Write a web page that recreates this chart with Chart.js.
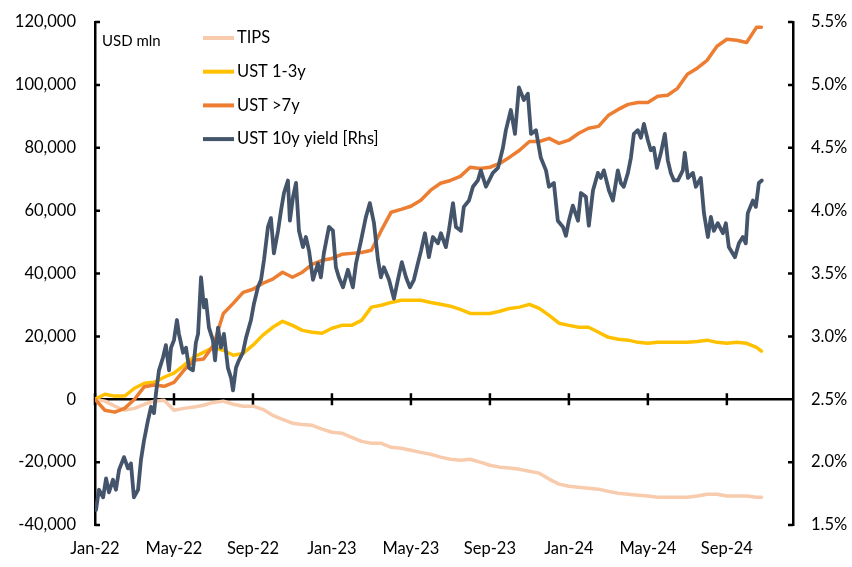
<!DOCTYPE html>
<html>
<head>
<meta charset="utf-8">
<script src="https://cdn.jsdelivr.net/npm/chart.js@4.4.1/dist/chart.umd.min.js"></script>
<style>
  html, body { margin: 0; padding: 0; background: #fff; }
  #wrap { width: 852px; height: 567px; position: relative; }
</style>
</head>
<body>
<div id="wrap"><canvas id="chart-flows"></canvas></div>
<script>
// ── Data (x in months since Jan-22) ──────────
const tickMonths = [0, 4, 8, 12, 16, 20, 24, 28, 32];
const tickLabels = ['Jan-22', 'May-22', 'Sep-22', 'Jan-23', 'May-23', 'Sep-23', 'Jan-24', 'May-24', 'Sep-24'];

// half-month grid for the cumulative flows (USD mln)
const flowMonths = [0, 0.5, 1, 1.5, 2, 2.5, 3, 3.5, 4, 4.5, 5, 5.5, 6, 6.5, 7, 7.5, 8, 8.5, 9, 9.5,
  10, 10.5, 11, 11.5, 12, 12.5, 13, 13.5, 14, 14.5, 15, 15.5, 16, 16.5, 17, 17.5, 18, 18.5, 19, 19.5,
  20, 20.5, 21, 21.5, 22, 22.5, 23, 23.5, 24, 24.5, 25, 25.5, 26, 26.5, 27, 27.5, 28, 28.5, 29, 29.5,
  30, 30.5, 31, 31.5, 32, 32.5, 33, 33.5, 33.75];

const tips = [0, -600, -2200, -3500, -2900, -1600, -600, -300, -3500, -2900, -2500, -1900, -1000, -600, -1600, -2200,
  -2200, -3200, -5100, -6400, -7600, -8000, -8300, -9500, -10500, -10800, -12100, -13400, -14000, -14000,
  -15300, -15600, -16200, -16900, -17500, -18400, -19100, -19400, -19100, -20000, -21000, -21600, -21900,
  -22300, -22900, -23500, -25400, -27000, -27700, -28000, -28300, -28600, -29300, -29900, -30200, -30500,
  -30800, -31200, -31200, -31200, -31200, -30800, -30200, -30200, -30800, -30800, -30800, -31200, -31200];

const ust13 = [0, 1600, 1000, 1000, 3500, 5100, 5400, 7000, 8300, 10800, 13400, 14900, 16500, 15600, 14000, 14600,
  17200, 20400, 22900, 24800, 23500, 21900, 21300, 21000, 22600, 23500, 23500, 25100, 29300, 29900, 30800,
  31500, 31500, 31500, 30800, 30200, 29600, 28600, 27300, 27300, 27300, 28000, 28900, 29300, 30200, 28900,
  26700, 24200, 23500, 22900, 22900, 21300, 19700, 19100, 18800, 18100, 17800, 18100, 18100, 18100, 18100,
  18400, 18800, 18100, 17800, 18100, 17800, 16500, 15300];

const ust7 = [0, -3500, -4100, -2900, 0, 4000, 4500, 4100, 5400, 9200, 12400, 12800, 17200, 27300, 30500, 34000,
  35000, 36900, 38200, 40400, 38800, 40400, 42900, 44200, 44800, 46100, 46400, 46700, 47400, 53700, 59500,
  60400, 61400, 63300, 66500, 68700, 69600, 70900, 73800, 73400, 73800, 75000, 77000, 79200, 82000, 82000,
  83000, 81400, 82400, 84600, 86200, 86800, 90300, 92200, 93800, 94400, 94400, 96400, 96700, 98900, 103400,
  105300, 107800, 112300, 114500, 114200, 113500, 118300, 118300];

// UST 10y yield, % (right axis)
const yieldMonths = [0.05, 0.20, 0.41, 0.56, 0.71, 0.91, 1.06, 1.22, 1.47, 1.67, 1.82, 1.97, 2.18, 2.33, 2.48, 2.68,
  2.84, 2.99, 3.09, 3.24, 3.44, 3.59, 3.75, 3.85, 4.00, 4.15, 4.25, 4.46, 4.61, 4.76, 4.96, 5.11, 5.22, 5.37,
  5.52, 5.62, 5.77, 5.97, 6.08, 6.23, 6.38, 6.53, 6.73, 6.89, 6.99, 7.14, 7.29, 7.49, 7.65, 7.90, 8.05, 8.25,
  8.41, 8.56, 8.76, 8.91, 9.06, 9.27, 9.42, 9.57, 9.77, 9.87, 10.03, 10.18, 10.33, 10.53, 10.68, 10.84, 11.04,
  11.29, 11.44, 11.59, 11.85, 12.05, 12.20, 12.35, 12.56, 12.81, 13.06, 13.22, 13.47, 13.72, 13.92, 14.13,
  14.33, 14.48, 14.63, 14.89, 15.14, 15.34, 15.54, 15.75, 15.95, 16.15, 16.35, 16.51, 16.71, 16.91, 17.11,
  17.37, 17.52, 17.77, 17.92, 18.13, 18.28, 18.53, 18.68, 18.94, 19.14, 19.39, 19.54, 19.80, 20.15, 20.41,
  20.66, 20.81, 21.06, 21.27, 21.47, 21.72, 21.92, 22.08, 22.33, 22.58, 22.84, 22.99, 23.24, 23.44, 23.70,
  23.85, 24.00, 24.20, 24.46, 24.61, 24.86, 25.01, 25.22, 25.47, 25.62, 25.77, 26.03, 26.23, 26.48, 26.63,
  26.78, 26.99, 27.14, 27.29, 27.49, 27.65, 27.80, 28.00, 28.15, 28.30, 28.46, 28.66, 28.86, 29.01, 29.16,
  29.32, 29.52, 29.77, 29.87, 30.03, 30.28, 30.43, 30.68, 30.84, 31.04, 31.19, 31.34, 31.54, 31.80, 31.95,
  32.10, 32.41, 32.61, 32.81, 32.96, 33.06, 33.32, 33.47, 33.62, 33.77];

const yield10 = [1.62, 1.78, 1.72, 1.87, 1.76, 1.86, 1.78, 1.94, 2.04, 1.95, 1.99, 1.72, 1.78, 2.02, 2.17, 2.33,
  2.44, 2.39, 2.55, 2.73, 2.83, 2.93, 2.73, 2.91, 2.97, 3.13, 3.02, 2.87, 2.91, 2.75, 2.73, 2.95, 3.02, 3.47,
  3.23, 3.29, 3.07, 2.97, 2.81, 3.07, 2.91, 3.02, 2.75, 2.67, 2.57, 2.75, 2.81, 2.87, 2.99, 3.13, 3.26, 3.39,
  3.45, 3.61, 3.87, 3.94, 3.66, 3.84, 4.00, 4.14, 4.24, 3.92, 4.11, 4.22, 3.84, 3.71, 3.79, 3.68, 3.45,
  3.58, 3.47, 3.66, 3.87, 3.84, 3.55, 3.47, 3.39, 3.53, 3.39, 3.58, 3.76, 3.95, 4.06, 3.90,
  3.61, 3.47, 3.55, 3.45, 3.30, 3.45, 3.59, 3.47, 3.39, 3.45, 3.58, 3.68, 3.82, 3.63, 3.79,
  3.74, 3.82, 3.71, 3.84, 4.06, 3.87, 3.84, 4.03, 4.08, 4.19, 4.24, 4.32, 4.19, 4.30, 4.34,
  4.50, 4.64, 4.80, 4.61, 4.98, 4.88, 4.93, 4.61, 4.64, 4.42, 4.32, 4.19, 4.22, 3.92, 3.87,
  3.80, 3.92, 4.04, 3.92, 4.14, 4.11, 3.88, 4.16, 4.30, 4.26, 4.32, 4.16, 4.08, 4.32, 4.22,
  4.19, 4.30, 4.42, 4.61, 4.64, 4.58, 4.69, 4.56, 4.48, 4.50, 4.34, 4.46, 4.61, 4.40, 4.30,
  4.24, 4.24, 4.32, 4.46, 4.26, 4.30, 4.19, 4.26, 3.98, 3.79, 3.95, 3.84, 3.90, 3.82, 3.90,
  3.71, 3.63, 3.74, 3.79, 3.74, 3.98, 4.08, 4.03, 4.22, 4.24];

// ── Style ───────────────────────────────────
const FONT = "Lato, 'Liberation Sans', Arial, sans-serif";
Chart.defaults.font.family = FONT;
Chart.defaults.font.size = 16.5;
Chart.defaults.color = '#000';

const pairs = (xs, ys) => xs.map((x, i) => ({ x, y: ys[i] }));

// fixed axis box, no extra label padding pushed into the layout
const fixWidth = w => s => { s.width = w; s.paddingTop = 0; s.paddingBottom = 0; };

// axis zero line, inner tick marks, legend and unit label
const decor = {
  id: 'decor',
  beforeDatasetsDraw(chart) {
    const { ctx, chartArea: a, scales: { x, y, y2 } } = chart;
    const y0 = y.getPixelForValue(0);
    ctx.save();
    ctx.strokeStyle = '#000';
    ctx.lineWidth = 2.5;
    ctx.beginPath();
    ctx.moveTo(a.left, y0);
    ctx.lineTo(a.right, y0);
    x.ticks.forEach(t => {
      const px = x.getPixelForValue(t.value);
      ctx.moveTo(px, y0 - 6);
      ctx.lineTo(px, y0 + 6);
    });
    y.ticks.forEach(t => {
      const py = y.getPixelForValue(t.value);
      ctx.moveTo(a.left, py);
      ctx.lineTo(a.left + 5, py);
    });
    y2.ticks.forEach(t => {
      const py = y2.getPixelForValue(t.value);
      ctx.moveTo(a.right, py);
      ctx.lineTo(a.right - 5, py);
    });
    ctx.stroke();
    ctx.restore();
  },
  afterDraw(chart) {
    const { ctx, chartArea: a } = chart;
    ctx.save();
    ctx.fillStyle = '#000';
    ctx.textBaseline = 'middle';
    ctx.textAlign = 'left';
    ctx.font = '15px ' + FONT;
    ctx.fillText('USD mln', a.left + 7, 41);

    ctx.font = '16.5px ' + FONT;
    chart.data.datasets.forEach((ds, i) => {
      const ly = 38 + i * 33.7;
      ctx.strokeStyle = ds.borderColor;
      ctx.lineWidth = 4;
      ctx.beginPath();
      ctx.moveTo(203, ly);
      ctx.lineTo(234, ly);
      ctx.stroke();
      ctx.fillText(ds.label, 237, ly);
    });
    ctx.restore();
  }
};

new Chart(document.getElementById('chart-flows'), {
  type: 'line',
  data: {
    datasets: [
      { label: 'TIPS', data: pairs(flowMonths, tips), borderColor: '#F8CBAD', yAxisID: 'y', order: 4 },
      { label: 'UST 1-3y', data: pairs(flowMonths, ust13), borderColor: '#FFC000', yAxisID: 'y', order: 3 },
      { label: 'UST >7y', data: pairs(flowMonths, ust7), borderColor: '#ED7D31', yAxisID: 'y', order: 2 },
      { label: 'UST 10y yield [Rhs]', data: pairs(yieldMonths, yield10), borderColor: '#44546A', yAxisID: 'y2', order: 1, borderWidth: 3.8 },
    ],
  },
  options: {
    responsive: true,
    maintainAspectRatio: false,
    animation: false,
    layout: { padding: { left: 15, top: 22, right: 0, bottom: 0 } },
    elements: {
      line: { borderWidth: 3.5, tension: 0, borderJoinStyle: 'round', borderCapStyle: 'round' },
      point: { radius: 0 },
    },
    plugins: { legend: { display: false }, tooltip: { enabled: false } },
    scales: {
      x: {
        type: 'linear', min: 0, max: 35.35,
        grid: { display: false, drawTicks: false },
        border: { display: false },
        ticks: {
          padding: 14, maxRotation: 0, autoSkip: false,
          callback: v => { const i = tickMonths.indexOf(v); return i >= 0 ? tickLabels[i] : ''; },
        },
        afterBuildTicks: s => { s.ticks = tickMonths.map(v => ({ value: v })); },
        afterFit: s => { s.height = 42; },
      },
      y: {
        position: 'left', min: -40000, max: 120000,
        grid: { display: false, drawTicks: false },
        border: { display: true, color: '#000', width: 2.5 },
        ticks: { stepSize: 20000, padding: 19, callback: v => v.toLocaleString('en-US') },
        afterFit: fixWidth(80),
      },
      y2: {
        position: 'right', min: 1.5, max: 5.5,
        grid: { display: false, drawTicks: false },
        border: { display: true, color: '#000', width: 2.5 },
        ticks: { stepSize: 0.5, padding: 18, callback: v => v.toFixed(1) + '%' },
        afterFit: fixWidth(59),
      },
    },
  },
  plugins: [decor],
});
</script>
</body>
</html>
